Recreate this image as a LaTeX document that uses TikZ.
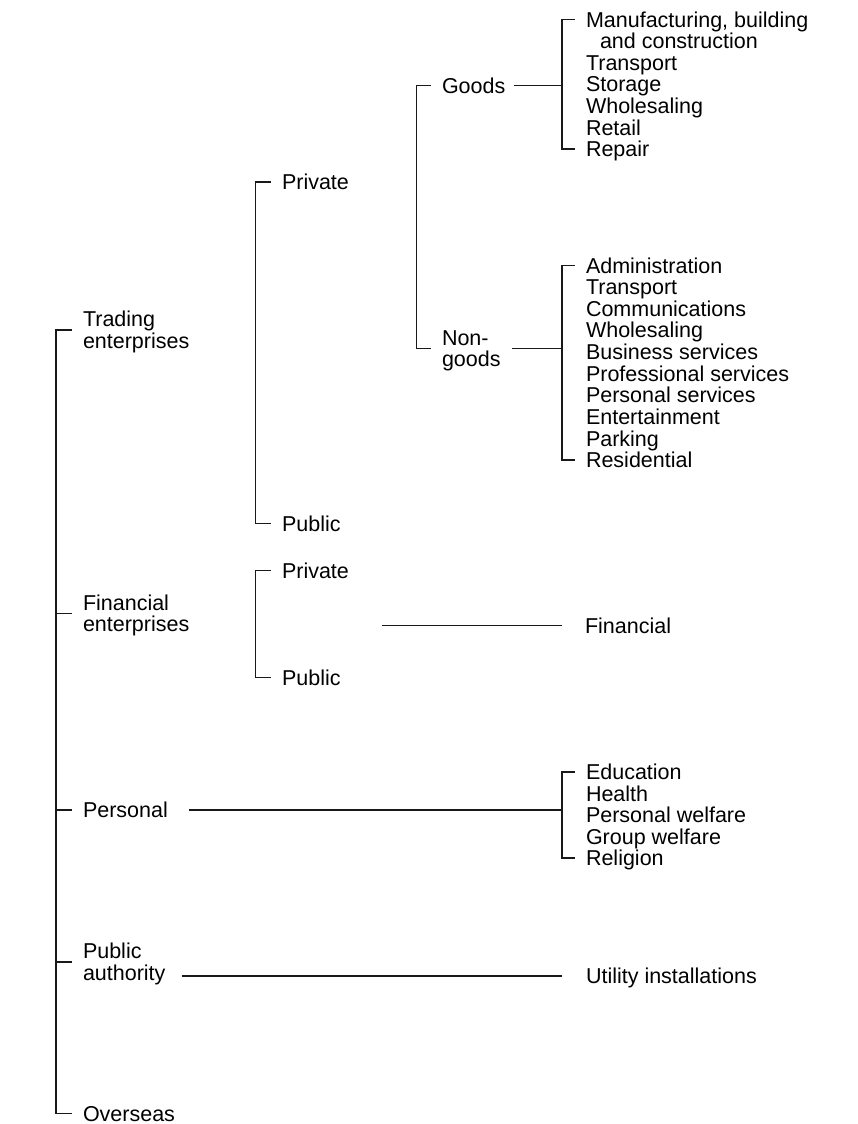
\documentclass[tikz,border=0pt]{standalone}
\usepackage{fontspec}
\setmainfont{Liberation Sans}
\begin{document}
\begin{tikzpicture}[x=1pt,y=-1pt,
  lab/.style={anchor=west, inner sep=0pt, outer xsep=11.5pt, outer ysep=0pt,
    text height=15pt, text depth=0pt, font=\fontsize{21.5pt}{21.6pt}\selectfont, text=black},
  two/.style={lab, align=left, text height=36.6pt, text depth=0pt},
  conn/.style={line width=1.8pt, draw=black!90}]
\useasboundingbox (0,0) rectangle (857,1124);
% spine coordinates
\coordinate (s0) at (56,0);
\coordinate (s1) at (255.5,0);
\coordinate (s2) at (416.5,0);
\coordinate (s3) at (562,0);
% top level
\node[two] (trading) at (71.5,330) {Trading\\enterprises};
\node[two] (financialent) at (71.5,613.5) {Financial\\enterprises};
\node[lab] (personal) at (71.5,810) {Personal};
\node[two] (pubauth) at (71.5,962) {Public\\authority};
\node[lab] (overseas) at (71.5,1113.5) {Overseas};
% second level
\node[lab] (tpriv) at (270.5,182) {Private};
\node[lab] (tpub) at (270.5,523.5) {Public};
\node[lab] (fpriv) at (270.5,570.5) {Private};
\node[lab] (fpub) at (270.5,677.5) {Public};
% third level
\node[lab] (goods) at (430.5,85.5) {Goods};
\node[two] (nongoods) at (430.5,348.5) {Non-\\goods};
% goods items
\node[two] (m1) at (574.5,30.5) {Manufacturing, building\\\hspace*{14pt}and construction};
\node[lab] (g2) at (574.5,62.7) {Transport};
\node[lab] (g3) at (574.5,84.3) {Storage};
\node[lab] (g4) at (574.5,105.9) {Wholesaling};
\node[lab] (g5) at (574.5,127.5) {Retail};
\node[lab] (g6) at (574.5,149.1) {Repair};
% non-goods items
\node[lab] (n1) at (574.5,265.5) {Administration};
\node[lab] (n2) at (574.5,287.15) {Transport};
\node[lab] (n3) at (574.5,308.8) {Communications};
\node[lab] (n4) at (574.5,330.45) {Wholesaling};
\node[lab] (n5) at (574.5,352.1) {Business services};
\node[lab] (n6) at (574.5,373.75) {Professional services};
\node[lab] (n7) at (574.5,395.4) {Personal services};
\node[lab] (n8) at (574.5,417.05) {Entertainment};
\node[lab] (n9) at (574.5,438.7) {Parking};
\node[lab] (n10) at (574.5,460.35) {Residential};
% financial
\node[lab] (financial) at (573.5,625.5) {Financial};
% personal items
\node[lab] (p1) at (574.5,772) {Education};
\node[lab] (p2) at (574.5,793.5) {Health};
\node[lab] (p3) at (574.5,815) {Personal welfare};
\node[lab] (p4) at (574.5,836.5) {Group welfare};
\node[lab] (p5) at (574.5,858) {Religion};
% utility
\node[lab] (utility) at (574.5,976) {Utility installations};
% connectors
\draw[conn] (trading.west) -- (trading.west -| s0) -- (overseas.west -| s0) -- (overseas.west);
\foreach \n in {financialent, personal, pubauth}
  \draw[conn] (\n.west) -- (\n.west -| s0);
\draw[conn] (tpriv.west) -- (tpriv.west -| s1) -- (tpub.west -| s1) -- (tpub.west);
\draw[conn] (fpriv.west) -- (fpriv.west -| s1) -- (fpub.west -| s1) -- (fpub.west);
\draw[conn] (goods.west) -- (goods.west -| s2) -- (nongoods.west -| s2) -- (nongoods.west);
\coordinate (m1t) at ([yshift=11pt]m1.west);
\draw[conn] (m1t) -- (m1t -| s3) -- (g6.west -| s3) -- (g6.west);
\draw[conn] ([xshift=-3pt]goods.east) -- (goods.east -| s3);
\draw[conn] (n1.west) -- (n1.west -| s3) -- (n10.west -| s3) -- (n10.west);
\draw[conn] (nongoods.east) -- (nongoods.east -| s3);
\draw[conn] (p1.west) -- (p1.west -| s3) -- (p5.west -| s3) -- (p5.west);
\draw[conn] ([xshift=10pt]personal.east) -- (personal.east -| s3);
\coordinate (finstart) at (382,625.5);
\draw[conn] (finstart) -- (financial.west -| s3);
\coordinate (pa) at ([xshift=5pt]pubauth.east);
\draw[conn] (pa |- utility.west) -- (utility.west -| s3);
\end{tikzpicture}
\end{document}
